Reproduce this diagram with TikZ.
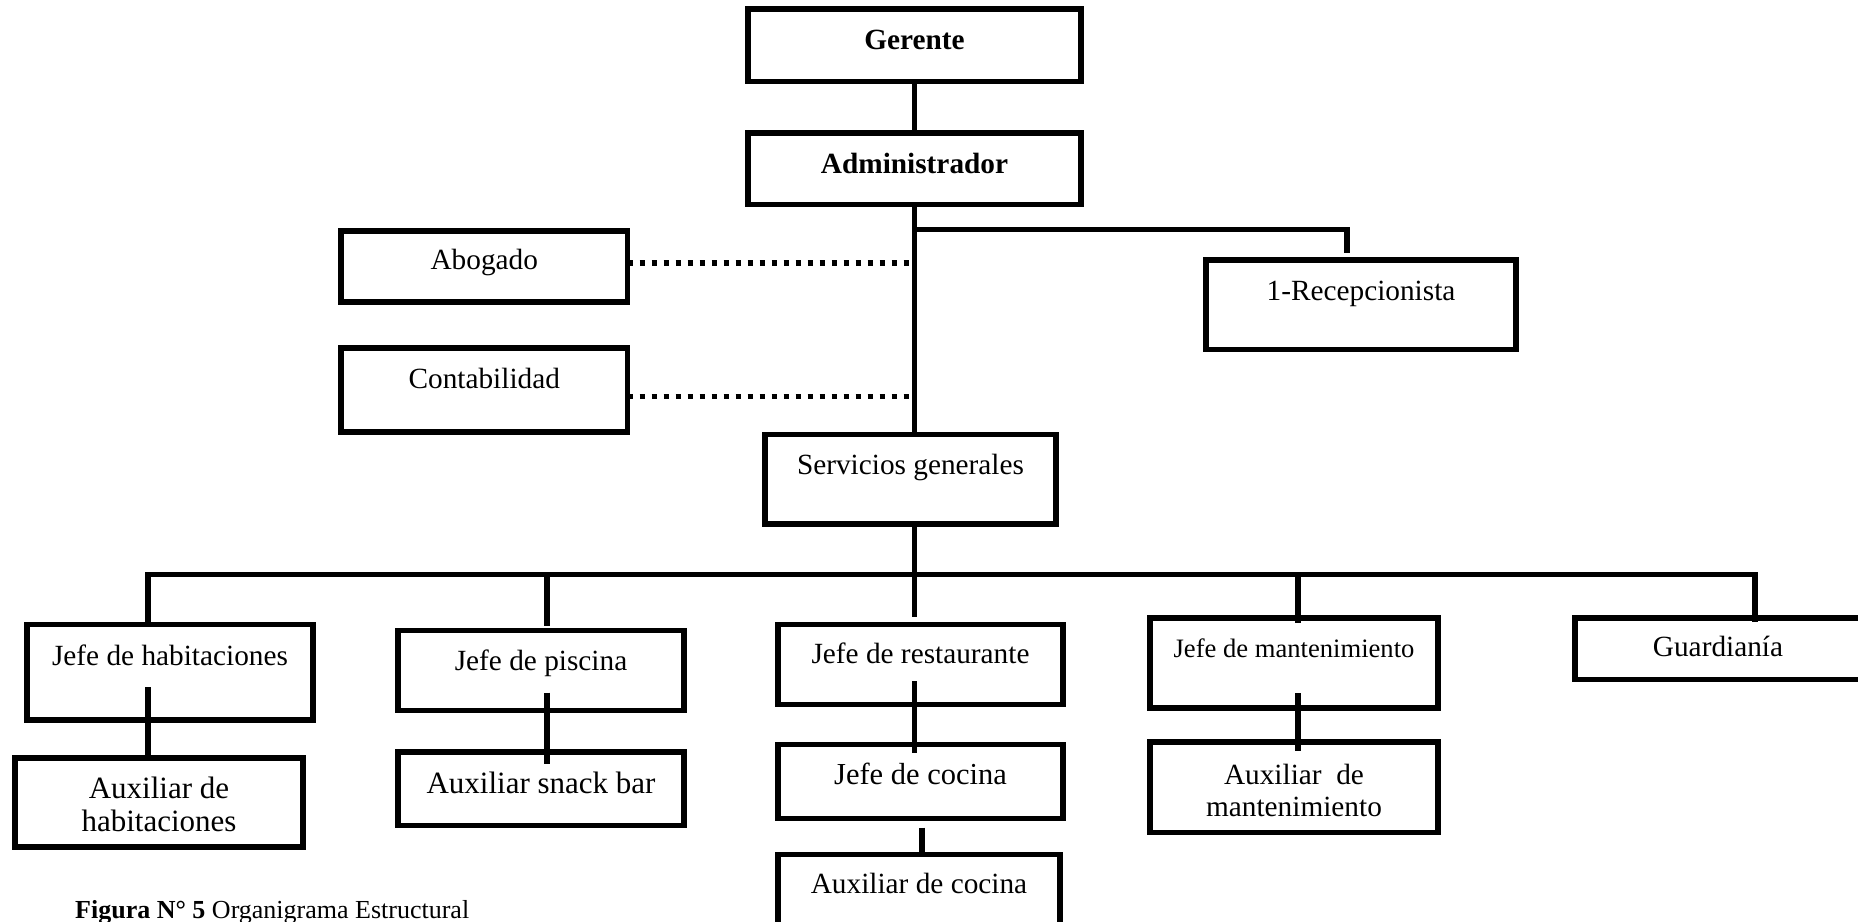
\documentclass[tikz,border=0pt]{standalone}
\usepackage{fontspec}
\setmainfont{Liberation Serif}
\usetikzlibrary{calc}
\tikzset{
 box/.style={draw, line width=5.5pt, inner sep=0pt, outer sep=0pt, anchor=base, minimum height=0pt, font=\fontsize{29.3}{35}\selectfont},
 conn/.style={line width=5.5pt},
 dotline/.style={line width=5.5pt, dash pattern=on 5.5pt off 6.5pt},
}
\begin{document}
\begin{tikzpicture}[x=1pt,y=-1pt]
\useasboundingbox (0,0) rectangle (1858,921);
\clip (0,0) rectangle (1858,921);

\node[box, minimum width=333pt, text height=40.8pt, text depth=31.7pt] (ger) at (914.5,49.8) {\textbf{Gerente}};
\node[box, minimum width=333pt, text height=40.8pt, text depth=30.7pt] (adm) at (914.5,173.8) {\textbf{Administrador}};
\node[box, minimum width=286.5pt, text height=38.8pt, text depth=32.2pt] (abo) at (484.25,269.8) {Abogado};
\node[box, minimum width=286.5pt, text height=40.2pt, text depth=43.8pt] (con) at (484.25,388.2) {Contabilidad};
\node[box, minimum width=310pt, text height=40.5pt, text depth=49pt] (rec) at (1361,300.5) {1-Recepcionista};
\node[box, minimum width=291pt, text height=39.7pt, text depth=49.8pt] (ser) at (910.5,474.2) {Servicios generales};
\node[box, minimum width=286pt, text height=41pt, text depth=54.5pt] (jh) at (170,665.5) {Jefe de habitaciones};
\node[box, minimum width=286pt, text height=39.8pt, text depth=40pt] (jp) at (541,670.5) {Jefe de piscina};
\node[box, minimum width=285pt, text height=39pt, text depth=41pt] (jr) at (920.5,663.5) {Jefe de restaurante};
\node[box, minimum width=288pt, text height=39.5pt, text depth=50.5pt, font=\fontsize{26.6}{32}\selectfont] (jm) at (1294,657.5) {Jefe de mantenimiento};
\node[box, minimum width=286pt, text height=38.5pt, text depth=23pt] (gu) at (1718,656.5) {Guardianía};
\node[box, minimum width=288pt, text height=40.2pt, text depth=48.8pt, font=\fontsize{31}{33.3}\selectfont] (ah) at (159,798.2) {\begin{tabular}[t]{@{}c@{}}Auxiliar de\\habitaciones\end{tabular}};
\node[box, minimum width=286pt, text height=41.2pt, text depth=32.3pt, font=\fontsize{31}{36}\selectfont] (as) at (541,793.2) {Auxiliar snack bar};
\node[box, minimum width=285pt, text height=39.7pt, text depth=34.3pt, font=\fontsize{30.5}{36}\selectfont] (jc) at (920.5,784.2) {Jefe de cocina};
\node[box, minimum width=288pt, text height=42.1pt, text depth=48.5pt, font=\fontsize{29.3}{32.3}\selectfont] (am) at (1294,784.2) {\begin{tabular}[t]{@{}c@{}}Auxiliar\ \ de\\mantenimiento\end{tabular}};
\node[box, minimum width=282pt, text height=39pt, text depth=46.5pt] (ac) at (919,893.5) {Auxiliar de cocina};

% upper connectors
\draw[conn] (ger.south) -- (adm.north);
\draw[conn] (adm.south) -- (adm.south |- ser.north);
\draw[conn] ($(adm.south)+(0,25)$) -| ($(rec.north)+(-14,-7)$);
\draw[dotline] ($(abo.east)+(0,-3.5)$) -- ($(abo.east -| adm.south)+(-3,-3.5)$);
\draw[dotline] ($(con.east)+(0,6.5)$) -- ($(con.east -| adm.south)+(-3,6.5)$);

% bus
\coordinate (busL) at (148,574.5);
\coordinate (busR) at (1755,574.5);
\coordinate (dp) at (547,574.5);
\coordinate (dm) at (1298,574.5);
\draw[conn] (adm.south |- ser.south) -- (adm.south |- busL);
\draw[conn] (busL |- jh.north) -- (busL) -- (busR) -- ($(busR |- gu.north)+(0,4)$);
\draw[conn] (dp) -- ($(dp |- jp.north)+(0,-5)$);
\draw[conn] (adm.south |- busL) -- ($(adm.south |- jr.north)+(0,-7.5)$);
\draw[conn] (dm) -- ($(dm |- jm.north)+(0,5)$);

% lower connectors
\draw[conn] ($(busL |- jh.south)+(0,-33)$) -- (busL |- ah.north);
\draw[conn] ($(dp |- jp.south)+(0,-18)$) -- ($(dp |- as.north)+(0,12)$);
\draw[conn] ($(adm.south |- jr.south)+(0,-23.5)$) -- ($(adm.south |- jc.north)+(0,8)$);
\draw[conn] ($(jc.south)+(1.5,9)$) -- ($(jc.south |- ac.north)+(1.5,-3)$);
\draw[conn] ($(dm |- jm.south)+(0,-15)$) -- ($(dm |- am.north)+(0,8.4)$);

% caption
\node[anchor=base west, inner sep=0pt, font=\fontsize{26}{31}\selectfont] (cap) at (75,918) {\textbf{Figura N° 5} Organigrama Estructural};
\end{tikzpicture}
\end{document}
